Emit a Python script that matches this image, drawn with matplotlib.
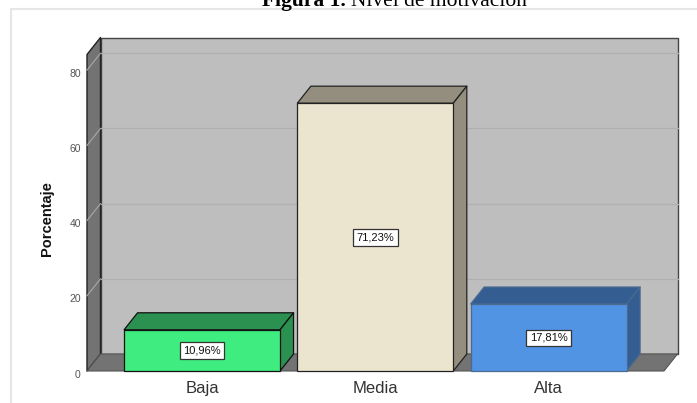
import matplotlib
matplotlib.use("Agg")
import matplotlib.pyplot as plt
from matplotlib.patches import Polygon
from matplotlib.lines import Line2D
from matplotlib.transforms import ScaledTranslation

categories = ["Baja", "Media", "Alta"]
values = [10.96, 71.23, 17.81]
labels = ["10,96%", "71,23%", "17,81%"]
yticks = [0, 20, 40, 60, 80]
front_colors = ["#3fec80", "#ebe5d0", "#5294e4"]
side_colors = ["#2a9150", "#938e7e", "#345e92"]
edge_colors = ["#111111", "#222222", "#4a6a90"]

W, H = 697, 403
plt.rcParams["font.family"] = ["Liberation Sans", "DejaVu Sans"]
fig = plt.figure(figsize=(W / 100, H / 100), dpi=100, facecolor="white")

# frame of the pasted picture
fig.add_artist(Line2D([10.5 / W, 10.5 / W, 1], [0, 1 - 8.5 / H, 1 - 8.5 / H], color="#e6e6e6", lw=1.5))

x0, x1, y0, ytop = 87, 664, 371, 54.5
ax = fig.add_axes([x0 / W, 1 - y0 / H, (x1 - x0) / W, (y0 - ytop) / H])
xmin, xmax, ymax = -0.664, 2.666, (y0 - ytop) / 3.76
ax.set_xlim(xmin, xmax)
ax.set_ylim(0, ymax)
pxx = (xmax - xmin) / (x1 - x0)
pxy = ymax / (y0 - ytop)
dx, dy = 13.5 * pxx, 17 * pxy

def poly(pts, fc, ec="#222222", lw=1.0, z=1):
    ax.add_patch(Polygon(pts, closed=True, facecolor=fc, edgecolor=ec, lw=lw, zorder=z, clip_on=False, joinstyle="round"))

# walls and floor
poly([(xmin + dx, dy), (xmax + dx, dy), (xmax + dx, ymax + dy), (xmin + dx, ymax + dy)], "#bebebe", "#444444", 1.0)
poly([(xmin, 0), (xmin + dx, dy), (xmin + dx, ymax + dy), (xmin, ymax)], "#737373", "#222222", 1.0)
poly([(xmin, 0), (xmax, 0), (xmax + dx, dy), (xmin + dx, dy)], "#737373", "#555555", 0.8)

# gridlines
for t in yticks[1:]:
    ax.plot([xmin + dx, xmax + dx], [t + dy, t + dy], color="#b0b0b0", lw=0.9, zorder=1.5, clip_on=False)
    ax.plot([xmin, xmin + dx], [t, t + dy], color="#a8a8a8", lw=0.8, zorder=1.5, clip_on=False)

# bars
w = 0.9
for i, v in enumerate(values):
    l, r = i - w / 2, i + w / 2
    ec, lw = edge_colors[i], 0.9
    poly([(l, v), (r, v), (r + dx, v + dy), (l + dx, v + dy)], side_colors[i], ec, lw, 2)
    poly([(r, 0), (r + dx, dy), (r + dx, v + dy), (r, v)], side_colors[i], ec, lw, 2)
ax.bar(range(3), values, width=w, color=front_colors, edgecolor=edge_colors, lw=0.9, zorder=3, clip_on=False)

for i, v in enumerate(values):
    ax.text(i, v / 2 - 0.1, labels[i], ha="center", va="center", fontsize=8, color="#111111", zorder=4,
            bbox=dict(boxstyle="square,pad=0.3", fc="white", ec="#333333", lw=0.9))

for s in ax.spines.values():
    s.set_visible(False)
ax.patch.set_visible(False)
ax.set_xticks(range(3), categories, fontsize=12, color="#333333")
ax.set_yticks(yticks, [str(t) for t in yticks], fontsize=7.5, color="#555555")
ax.tick_params(axis="both", length=0)
ax.tick_params(axis="x", pad=7)
ax.tick_params(axis="y", pad=4.5)
shift = ScaledTranslation(0, -2.5 / 100, fig.dpi_scale_trans)
for lab in ax.get_yticklabels():
    lab.set_transform(lab.get_transform() + shift)
ax.set_ylabel("Porcentaje", fontsize=10.5, fontweight="bold", color="#111111", labelpad=0)
ax.yaxis.set_label_coords((54 - x0) / (x1 - x0), (y0 - 219) / (y0 - ytop))

# title, partly cut by the top edge like the reference
fig.text(346 / W, 1 - 6 / H, "Figura 1.", family="Liberation Serif", fontweight="bold", fontsize=15.5,
         ha="right", va="baseline", color="black")
fig.text(351 / W, 1 - 6 / H, "Nivel de motivación", family="Liberation Serif", fontsize=15.5,
         ha="left", va="baseline", color="black")

fig.savefig("out.png", dpi=100)
